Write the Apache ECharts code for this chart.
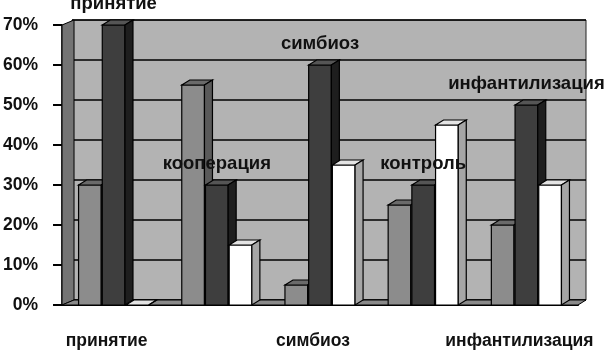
<!DOCTYPE html>
<html>
<head>
<meta charset="utf-8">
<script src="https://cdn.jsdelivr.net/npm/echarts@6/dist/echarts.min.js"></script>
<style>
  html, body { margin: 0; padding: 0; background: #fff; }
  #chart { width: 606px; height: 350px; }
</style>
</head>
<body>
<div id="chart"></div>
<script>
const categories = ['принятие', 'кооперация', 'симбиоз', 'контроль', 'инфантилизация']
const grayValues = [30, 55, 5, 25, 20]
const darkValues = [70, 30, 60, 30, 50]
const whiteValues = [0, 15, 35, 45, 30]
const yTicks = { min: 0, max: 70, interval: 10 }

const FONT = '"Liberation Sans", Arial, sans-serif'
const DX = 8
const DY = 5

function barBox(api, slot) {
  const idx = api.value(0)
  const top = api.coord([idx, api.value(1)])
  const base = api.coord([idx, 0])
  const w = api.size([1, 0])[0] * 0.22
  const cx = top[0] + (slot - 1) * (w + 1)
  return { idx: idx, cx: cx, x0: cx - w / 2, x1: cx + w / 2, w: w, y: top[1], b: base[1] }
}

// 3d column: front + top + right side
function barRender(colors, slot) {
  return function (params, api) {
    const o = barBox(api, slot)
    const line = { stroke: '#000', lineWidth: 1.2 }
    return {
      type: 'group',
      children: [
        { type: 'rect', shape: { x: o.x0, y: o.y, width: o.w, height: o.b - o.y }, style: Object.assign({ fill: colors[0] }, line) },
        { type: 'polygon', shape: { points: [[o.x0, o.y], [o.x0 + DX, o.y - DY], [o.x1 + DX, o.y - DY], [o.x1, o.y]] }, style: Object.assign({ fill: colors[1] }, line) },
        { type: 'polygon', shape: { points: [[o.x1, o.y], [o.x1 + DX, o.y - DY], [o.x1 + DX, o.b - DY], [o.x1, o.b]] }, style: Object.assign({ fill: colors[2] }, line) }
      ]
    }
  }
}

// category name above the dark column
function labelRender(params, api) {
  const o = barBox(api, 1)
  return {
    type: 'text',
    style: { text: categories[o.idx], x: o.cx, y: o.y - 21, align: 'center', verticalAlign: 'middle', font: 'bold 18.5px ' + FONT, fill: '#111' }
  }
}

// left wall and floor
function frameRender(params, api) {
  const cs = params.coordSys
  const l = cs.x, t = cs.y, r = cs.x + cs.width, bt = cs.y + cs.height
  return {
    type: 'group',
    children: [
      { type: 'polygon', shape: { points: [[l, t], [l + 12, t - 5], [l + 12, bt - 5], [l, bt]] }, style: { fill: '#747474', stroke: '#000', lineWidth: 1 } },
      { type: 'polygon', shape: { points: [[l, bt], [l + 12, bt - 5], [r + 8, bt - 5], [r, bt]] }, style: { fill: '#8a8a8a', stroke: '#000', lineWidth: 1 } }
    ]
  }
}

const chart = echarts.init(document.getElementById('chart'))
const toData = (arr) => arr.map((v, i) => [i, v])

chart.setOption({
  animation: false,
  backgroundColor: '#fff',
  grid: [
    { left: 60, right: 28, top: 25, bottom: 45 },
    { left: 72, right: 20, top: 20, bottom: 50, show: true, backgroundColor: '#b3b3b3', borderColor: '#222', borderWidth: 1 }
  ],
  xAxis: [
    {
      type: 'category',
      gridIndex: 0,
      data: categories,
      boundaryGap: true,
      axisLine: { lineStyle: { color: '#000', width: 2 } },
      axisTick: { interval: 0, length: 7, lineStyle: { color: '#000', width: 2 } },
      axisLabel: { interval: 1, margin: 27, padding: [0, 14, 0, 0], color: '#111', fontWeight: 'bold', fontSize: 17.5, fontFamily: FONT }
    },
    { type: 'category', gridIndex: 1, data: categories, show: false }
  ],
  yAxis: [
    {
      type: 'value',
      gridIndex: 0,
      min: yTicks.min,
      max: yTicks.max,
      interval: yTicks.interval,
      splitLine: { show: false },
      axisLine: { show: true, lineStyle: { color: '#000', width: 1.5 } },
      axisTick: { show: true, length: 9, lineStyle: { color: '#000', width: 2 } },
      axisLabel: { formatter: '{value}%', margin: 24, color: '#111', fontWeight: 'bold', fontSize: 17.5, fontFamily: FONT }
    },
    {
      type: 'value',
      gridIndex: 1,
      min: yTicks.min,
      max: yTicks.max,
      interval: yTicks.interval,
      axisLine: { show: false },
      axisTick: { show: false },
      axisLabel: { show: false },
      splitLine: { lineStyle: { color: '#000', width: 1.5 } }
    }
  ],
  series: [
    { type: 'custom', xAxisIndex: 0, yAxisIndex: 0, data: [[0, 0]], renderItem: frameRender, silent: true, z: 1 },
    { name: 'gray', type: 'custom', xAxisIndex: 0, yAxisIndex: 0, data: toData(grayValues), renderItem: barRender(['#8c8c8c', '#6a6a6a', '#5a5a5a'], 0), z: 3 },
    { name: 'dark', type: 'custom', xAxisIndex: 0, yAxisIndex: 0, data: toData(darkValues), renderItem: barRender(['#3e3e3e', '#555555', '#1e1e1e'], 1), z: 4 },
    { name: 'white', type: 'custom', xAxisIndex: 0, yAxisIndex: 0, data: toData(whiteValues), renderItem: barRender(['#ffffff', '#e4e4e4', '#a6a6a6'], 2), z: 5 },
    { name: 'labels', type: 'custom', xAxisIndex: 0, yAxisIndex: 0, data: toData(darkValues), renderItem: labelRender, silent: true, z: 10 }
  ]
})
</script>
</body>
</html>
